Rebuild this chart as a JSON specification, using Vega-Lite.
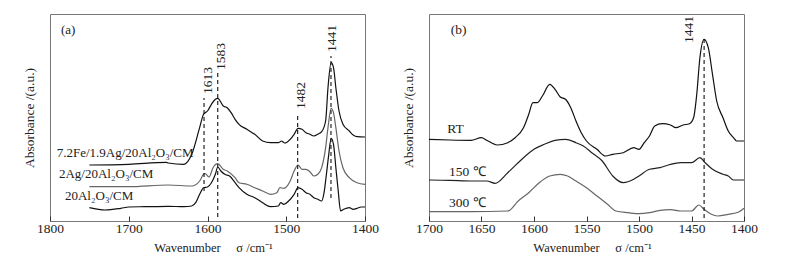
{
  "$schema": "https://vega.github.io/schema/vega-lite/v6.json",
  "padding": {"left": 21, "top": 13, "right": 0, "bottom": 0},
  "background": "white",
  "spacing": 64,
  "bounds": "flush",
  "resolve": {"scale": {"color": "independent"}},
  "config": {
    "font": "Liberation Serif",
    "view": {"stroke": "#777", "strokeWidth": 1},
    "axis": {"labelFont": "Liberation Serif", "titleFont": "Liberation Serif", "labelFontSize": 13.5, "titleFontSize": 13.5, "titleFontWeight": "normal", "labelColor": "#222", "titleColor": "#222", "grid": false},
    "axisX": {"titleFontSize": 12.5},
    "text": {"font": "Liberation Serif", "fontSize": 13.5, "color": "#222"}
  },
  "datasets": {
    "a": [
      {"s":"Fe","wn":1750,"v":56},{"s":"Fe","wn":1700,"v":56.7},{"s":"Fe","wn":1652,"v":58.7},{"s":"Fe","wn":1650,"v":58},{"s":"Fe","wn":1630,"v":56.7},{"s":"Fe","wn":1620,"v":66.7},{"s":"Fe","wn":1610,"v":93.3},{"s":"Fe","wn":1605,"v":106.7},{"s":"Fe","wn":1600,"v":110},{"s":"Fe","wn":1595,"v":116.7},{"s":"Fe","wn":1590,"v":121.7},{"s":"Fe","wn":1587,"v":122.7},{"s":"Fe","wn":1580,"v":115},{"s":"Fe","wn":1575,"v":113.3},{"s":"Fe","wn":1570,"v":108.3},{"s":"Fe","wn":1565,"v":101.7},{"s":"Fe","wn":1560,"v":96.7},{"s":"Fe","wn":1550,"v":91.7},{"s":"Fe","wn":1540,"v":86.7},{"s":"Fe","wn":1530,"v":80},{"s":"Fe","wn":1520,"v":78.3},{"s":"Fe","wn":1510,"v":78.3},{"s":"Fe","wn":1506,"v":80},{"s":"Fe","wn":1502,"v":78},{"s":"Fe","wn":1495,"v":81.7},{"s":"Fe","wn":1490,"v":86.7},{"s":"Fe","wn":1485,"v":92.7},{"s":"Fe","wn":1480,"v":91.7},{"s":"Fe","wn":1475,"v":88.3},{"s":"Fe","wn":1470,"v":86.7},{"s":"Fe","wn":1465,"v":85},{"s":"Fe","wn":1460,"v":86.7},{"s":"Fe","wn":1455,"v":89.3},{"s":"Fe","wn":1450,"v":100},{"s":"Fe","wn":1447,"v":133.3},{"s":"Fe","wn":1443,"v":158.3},{"s":"Fe","wn":1440,"v":153.3},{"s":"Fe","wn":1437,"v":133.3},{"s":"Fe","wn":1433,"v":110},{"s":"Fe","wn":1428,"v":96.7},{"s":"Fe","wn":1420,"v":90},{"s":"Fe","wn":1415,"v":86},{"s":"Fe","wn":1410,"v":84.3},{"s":"Fe","wn":1400,"v":84},
      {"s":"Ag","wn":1750,"v":34.3},{"s":"Ag","wn":1700,"v":34.3},{"s":"Ag","wn":1650,"v":36},{"s":"Ag","wn":1620,"v":35},{"s":"Ag","wn":1610,"v":40},{"s":"Ag","wn":1605,"v":46.7},{"s":"Ag","wn":1603,"v":47.3},{"s":"Ag","wn":1598,"v":44},{"s":"Ag","wn":1593,"v":53.3},{"s":"Ag","wn":1587,"v":57.3},{"s":"Ag","wn":1580,"v":51.7},{"s":"Ag","wn":1575,"v":50},{"s":"Ag","wn":1565,"v":43.3},{"s":"Ag","wn":1560,"v":38.3},{"s":"Ag","wn":1550,"v":36.7},{"s":"Ag","wn":1540,"v":33.3},{"s":"Ag","wn":1530,"v":30},{"s":"Ag","wn":1520,"v":26.7},{"s":"Ag","wn":1512,"v":28.3},{"s":"Ag","wn":1508,"v":33.3},{"s":"Ag","wn":1503,"v":32.7},{"s":"Ag","wn":1495,"v":40},{"s":"Ag","wn":1490,"v":50},{"s":"Ag","wn":1485,"v":56},{"s":"Ag","wn":1480,"v":51.7},{"s":"Ag","wn":1475,"v":51.7},{"s":"Ag","wn":1470,"v":49.3},{"s":"Ag","wn":1465,"v":45},{"s":"Ag","wn":1460,"v":46.7},{"s":"Ag","wn":1455,"v":53.3},{"s":"Ag","wn":1450,"v":73.3},{"s":"Ag","wn":1447,"v":93.3},{"s":"Ag","wn":1443,"v":112.7},{"s":"Ag","wn":1440,"v":108.3},{"s":"Ag","wn":1437,"v":93.3},{"s":"Ag","wn":1433,"v":70},{"s":"Ag","wn":1428,"v":53.3},{"s":"Ag","wn":1420,"v":43.3},{"s":"Ag","wn":1410,"v":38.3},{"s":"Ag","wn":1400,"v":36.7},
      {"s":"Al","wn":1750,"v":13.3},{"s":"Al","wn":1730,"v":11},{"s":"Al","wn":1710,"v":12.7},{"s":"Al","wn":1700,"v":14},{"s":"Al","wn":1680,"v":14.3},{"s":"Al","wn":1650,"v":14.7},{"s":"Al","wn":1630,"v":14.3},{"s":"Al","wn":1620,"v":15},{"s":"Al","wn":1615,"v":18.3},{"s":"Al","wn":1610,"v":26.7},{"s":"Al","wn":1605,"v":33.3},{"s":"Al","wn":1600,"v":34},{"s":"Al","wn":1595,"v":38.3},{"s":"Al","wn":1590,"v":46.7},{"s":"Al","wn":1587,"v":54},{"s":"Al","wn":1583,"v":50},{"s":"Al","wn":1578,"v":46.7},{"s":"Al","wn":1572,"v":45},{"s":"Al","wn":1565,"v":38.3},{"s":"Al","wn":1560,"v":33.3},{"s":"Al","wn":1550,"v":26.7},{"s":"Al","wn":1540,"v":23.3},{"s":"Al","wn":1530,"v":18.3},{"s":"Al","wn":1520,"v":14.3},{"s":"Al","wn":1510,"v":15},{"s":"Al","wn":1507,"v":18.3},{"s":"Al","wn":1503,"v":16.7},{"s":"Al","wn":1497,"v":20},{"s":"Al","wn":1490,"v":26.7},{"s":"Al","wn":1485,"v":33.3},{"s":"Al","wn":1480,"v":31.7},{"s":"Al","wn":1475,"v":28.3},{"s":"Al","wn":1470,"v":26.7},{"s":"Al","wn":1465,"v":23.3},{"s":"Al","wn":1460,"v":21.7},{"s":"Al","wn":1455,"v":20},{"s":"Al","wn":1452,"v":28.3},{"s":"Al","wn":1449,"v":46.7},{"s":"Al","wn":1446,"v":66.7},{"s":"Al","wn":1443,"v":82.7},{"s":"Al","wn":1440,"v":76.7},{"s":"Al","wn":1437,"v":53.3},{"s":"Al","wn":1434,"v":30},{"s":"Al","wn":1431,"v":10},{"s":"Al","wn":1427,"v":11.7},{"s":"Al","wn":1420,"v":13.3},{"s":"Al","wn":1415,"v":11.7},{"s":"Al","wn":1410,"v":12.7},{"s":"Al","wn":1405,"v":14},{"s":"Al","wn":1400,"v":14}
    ],
    "b": [
      {"s":"RT","wn":1700,"v":81.7},{"s":"RT","wn":1680,"v":81},{"s":"RT","wn":1660,"v":80.7},{"s":"RT","wn":1650,"v":83.3},{"s":"RT","wn":1645,"v":80.7},{"s":"RT","wn":1635,"v":76},{"s":"RT","wn":1625,"v":78.3},{"s":"RT","wn":1618,"v":83.3},{"s":"RT","wn":1610,"v":93.3},{"s":"RT","wn":1605,"v":106.7},{"s":"RT","wn":1601,"v":118.3},{"s":"RT","wn":1597,"v":118.3},{"s":"RT","wn":1592,"v":125},{"s":"RT","wn":1585,"v":136.7},{"s":"RT","wn":1580,"v":131.7},{"s":"RT","wn":1575,"v":124},{"s":"RT","wn":1570,"v":121.7},{"s":"RT","wn":1565,"v":113.3},{"s":"RT","wn":1560,"v":100},{"s":"RT","wn":1555,"v":88.3},{"s":"RT","wn":1550,"v":80},{"s":"RT","wn":1540,"v":71.7},{"s":"RT","wn":1532,"v":65},{"s":"RT","wn":1525,"v":66.7},{"s":"RT","wn":1515,"v":68.3},{"s":"RT","wn":1505,"v":73.3},{"s":"RT","wn":1500,"v":71.7},{"s":"RT","wn":1495,"v":78.3},{"s":"RT","wn":1490,"v":85},{"s":"RT","wn":1485,"v":95},{"s":"RT","wn":1478,"v":97.3},{"s":"RT","wn":1470,"v":96},{"s":"RT","wn":1465,"v":93.3},{"s":"RT","wn":1458,"v":96},{"s":"RT","wn":1452,"v":97.3},{"s":"RT","wn":1448,"v":103.3},{"s":"RT","wn":1445,"v":126.7},{"s":"RT","wn":1442,"v":163.3},{"s":"RT","wn":1438,"v":181.7},{"s":"RT","wn":1434,"v":173.3},{"s":"RT","wn":1430,"v":146.7},{"s":"RT","wn":1426,"v":120},{"s":"RT","wn":1420,"v":103.3},{"s":"RT","wn":1415,"v":90},{"s":"RT","wn":1410,"v":83.3},{"s":"RT","wn":1407,"v":80},{"s":"RT","wn":1400,"v":80},
      {"s":"150","wn":1700,"v":41},{"s":"150","wn":1680,"v":40.7},{"s":"150","wn":1660,"v":40},{"s":"150","wn":1645,"v":40},{"s":"150","wn":1637,"v":37.7},{"s":"150","wn":1625,"v":48.3},{"s":"150","wn":1610,"v":63.3},{"s":"150","wn":1600,"v":71.7},{"s":"150","wn":1590,"v":76.7},{"s":"150","wn":1580,"v":80.7},{"s":"150","wn":1570,"v":81.7},{"s":"150","wn":1560,"v":78.3},{"s":"150","wn":1553,"v":75},{"s":"150","wn":1545,"v":68.3},{"s":"150","wn":1535,"v":60},{"s":"150","wn":1525,"v":45},{"s":"150","wn":1515,"v":38.3},{"s":"150","wn":1505,"v":41.7},{"s":"150","wn":1500,"v":45},{"s":"150","wn":1490,"v":51.7},{"s":"150","wn":1480,"v":53.3},{"s":"150","wn":1470,"v":56.7},{"s":"150","wn":1460,"v":58.3},{"s":"150","wn":1450,"v":58.3},{"s":"150","wn":1442,"v":63.3},{"s":"150","wn":1437,"v":58.3},{"s":"150","wn":1430,"v":51.7},{"s":"150","wn":1420,"v":46.7},{"s":"150","wn":1415,"v":45},{"s":"150","wn":1410,"v":41},{"s":"150","wn":1400,"v":41},
      {"s":"300","wn":1700,"v":9.3},{"s":"300","wn":1660,"v":9.3},{"s":"300","wn":1625,"v":10},{"s":"300","wn":1615,"v":20},{"s":"300","wn":1605,"v":28.3},{"s":"300","wn":1595,"v":38.3},{"s":"300","wn":1585,"v":45},{"s":"300","wn":1575,"v":46.7},{"s":"300","wn":1568,"v":45},{"s":"300","wn":1560,"v":40},{"s":"300","wn":1550,"v":33.3},{"s":"300","wn":1540,"v":25},{"s":"300","wn":1530,"v":16.7},{"s":"300","wn":1522,"v":10},{"s":"300","wn":1510,"v":8.3},{"s":"300","wn":1500,"v":7.3},{"s":"300","wn":1490,"v":8.3},{"s":"300","wn":1480,"v":10.7},{"s":"300","wn":1470,"v":11.3},{"s":"300","wn":1460,"v":10},{"s":"300","wn":1450,"v":10},{"s":"300","wn":1443,"v":16},{"s":"300","wn":1438,"v":11.7},{"s":"300","wn":1432,"v":7.3},{"s":"300","wn":1425,"v":5},{"s":"300","wn":1415,"v":6.7},{"s":"300","wn":1405,"v":9},{"s":"300","wn":1400,"v":12.7}
    ],
    "ruleA": [
      {"pos":1604.4,"y1":30,"y2":123,"lx":1599,"ly":127,"label":"1613"},
      {"pos":1587,"y1":4,"y2":148,"lx":1583.3,"ly":151,"label":"1583"},
      {"pos":1485.5,"y1":3,"y2":108,"lx":1481.7,"ly":112,"label":"1482"},
      {"pos":1443.2,"y1":23,"y2":165,"lx":1442.3,"ly":169,"label":"1441"}
    ],
    "ruleB": [
      {"pos":1438,"y1":3,"y2":185,"lx":1452,"ly":178,"label":"1441"}
    ],
    "textA": [
      {"wn":1791.5,"v":68.3,"t":"7.2Fe/1.9Ag/20Al₂O₃/CM"},
      {"wn":1788.6,"v":46.7,"t":"2Ag/20Al₂O₃/CM"},
      {"wn":1781,"v":25,"t":"20Al₂O₃/CM"},
      {"wn":1786,"v":190.7,"t":"(a)"}
    ],
    "textB": [
      {"wn":1682.6,"v":91.7,"t":"RT"},
      {"wn":1681,"v":49,"t":"150 ℃"},
      {"wn":1681,"v":17.7,"t":"300 ℃"},
      {"wn":1679.4,"v":190.7,"t":"(b)"}
    ]
  },
  "hconcat": [
    {
      "width": 315,
      "height": 207,
      "layer": [
        {
          "data": {"name": "a"},
          "mark": {"type": "line", "strokeWidth": 1.2, "interpolate": "monotone"},
          "encoding": {
            "x": {"field": "wn", "type": "quantitative", "scale": {"domain": [1400, 1800], "reverse": true, "nice": false, "zero": false},
                  "axis": {"title": "Wavenumber\u00a0\u00a0\u00a0\u00a0\u00a0σ /cm⁻¹", "titleX": 163, "format": "d", "values": [1800,1775,1750,1725,1700,1675,1650,1625,1600,1575,1550,1525,1500,1475,1450,1425,1400], "labelExpr": "datum.value % 50 === 0 ? datum.label : ''", "tickSize": -5, "tickColor": "#333", "domain": false, "labelPadding": 5, "titlePadding": 7, "labelFlush": false, "labelOverlap": false}},
            "y": {"field": "v", "type": "quantitative", "scale": {"domain": [0, 207], "nice": false, "zero": false},
                  "axis": {"title": "Absorbance /(a.u.)", "labels": false, "ticks": false, "domain": false, "titlePadding": 14}},
            "color": {"field": "s", "type": "nominal", "scale": {"domain": ["Fe","Ag","Al"], "range": ["#111111","#666666","#111111"]}, "legend": null}
          }
        },
        {
          "data": {"name": "ruleA"},
          "mark": {"type": "rule", "strokeDash": [4, 3], "color": "#111", "strokeWidth": 1.1},
          "encoding": {
            "x": {"field": "pos", "type": "quantitative"},
            "y": {"field": "y1", "type": "quantitative"},
            "y2": {"field": "y2"}
          }
        },
        {
          "data": {"name": "ruleA"},
          "mark": {"type": "text", "angle": 270, "align": "left", "baseline": "middle"},
          "encoding": {
            "x": {"field": "lx", "type": "quantitative"},
            "y": {"field": "ly", "type": "quantitative"},
            "text": {"field": "label"}
          }
        },
        {
          "data": {"name": "textA"},
          "mark": {"type": "text", "align": "left", "baseline": "middle", "fontSize": 13},
          "encoding": {
            "x": {"field": "wn", "type": "quantitative"},
            "y": {"field": "v", "type": "quantitative"},
            "text": {"field": "t"}
          }
        }
      ]
    },
    {
      "width": 315,
      "height": 207,
      "layer": [
        {
          "data": {"name": "b"},
          "mark": {"type": "line", "strokeWidth": 1.2, "interpolate": "monotone"},
          "encoding": {
            "x": {"field": "wn", "type": "quantitative", "scale": {"domain": [1400, 1700], "reverse": true, "nice": false, "zero": false},
                  "axis": {"title": "Wavenumber\u00a0\u00a0\u00a0\u00a0\u00a0σ /cm⁻¹", "titleX": 163, "format": "d", "values": [1700,1675,1650,1625,1600,1575,1550,1525,1500,1475,1450,1425,1400], "labelExpr": "datum.value % 50 === 0 ? datum.label : ''", "tickSize": -5, "tickColor": "#333", "domain": false, "labelPadding": 5, "titlePadding": 7, "labelFlush": false, "labelOverlap": false}},
            "y": {"field": "v", "type": "quantitative", "scale": {"domain": [0, 207], "nice": false, "zero": false},
                  "axis": {"title": "Absorbance /(a.u.)", "labels": false, "ticks": false, "domain": false, "titlePadding": 14}},
            "color": {"field": "s", "type": "nominal", "scale": {"domain": ["RT","150","300"], "range": ["#111111","#222222","#666666"]}, "legend": null}
          }
        },
        {
          "data": {"name": "ruleB"},
          "mark": {"type": "rule", "strokeDash": [4, 3], "color": "#111", "strokeWidth": 1.1},
          "encoding": {
            "x": {"field": "pos", "type": "quantitative"},
            "y": {"field": "y1", "type": "quantitative"},
            "y2": {"field": "y2"}
          }
        },
        {
          "data": {"name": "ruleB"},
          "mark": {"type": "text", "angle": 270, "align": "left", "baseline": "middle"},
          "encoding": {
            "x": {"field": "lx", "type": "quantitative"},
            "y": {"field": "ly", "type": "quantitative"},
            "text": {"field": "label"}
          }
        },
        {
          "data": {"name": "textB"},
          "mark": {"type": "text", "align": "left", "baseline": "middle"},
          "encoding": {
            "x": {"field": "wn", "type": "quantitative"},
            "y": {"field": "v", "type": "quantitative"},
            "text": {"field": "t"}
          }
        }
      ]
    }
  ]
}
